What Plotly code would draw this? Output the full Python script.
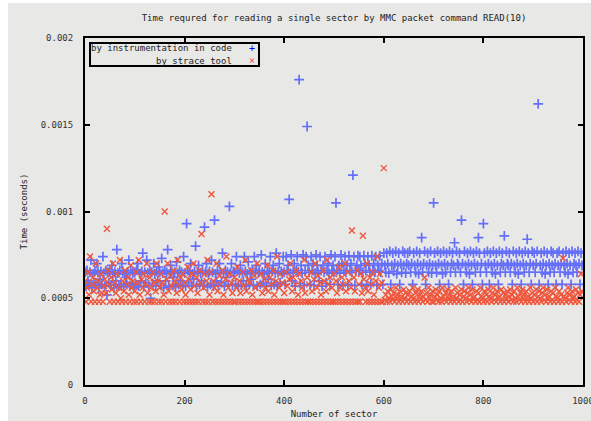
import plotly.graph_objects as go

# Times in microseconds, one value every 2 sectors (sector 0, 2, 4, ... 998)
sectors = list(range(0, 1000, 2))

blue_us = [
 650,570,660,600,580,650,720,560,640,590,660,575,700,650,560,610,655,580,740,645,570,660,520,650,590,
 655,575,690,640,560,650,600,780,645,570,660,580,700,655,565,640,620,580,650,720,570,660,590,645,560,
 650,580,665,700,570,640,600,655,760,565,650,590,720,645,575,660,500,650,585,700,640,570,655,600,680,
 650,575,730,645,560,660,600,650,780,570,640,690,655,575,620,650,565,710,645,580,660,600,650,575,740,
 645,570,930,660,590,650,700,575,640,610,655,800,570,650,690,580,645,600,660,575,910,650,700,565,640,
 655,580,720,650,570,950,640,600,660,575,700,650,590,760,645,570,660,620,650,580,1030,645,700,575,655,
 650,580,740,660,570,645,690,575,650,600,740,655,570,640,710,580,650,610,660,575,740,650,690,570,645,
 660,580,750,650,590,640,700,570,655,610,650,740,575,660,690,580,645,760,570,650,700,590,655,640,740,
 650,580,740,660,690,1070,645,750,600,650,700,570,660,740,650,1760,585,690,645,750,575,660,740,1490,690,
 650,580,740,660,700,575,645,750,690,650,600,740,660,570,690,650,740,585,660,700,645,580,750,660,690,
 650,740,1050,660,580,690,645,750,700,575,660,740,650,690,580,745,660,700,650,1210,740,575,660,690,745,
 660,740,690,580,650,745,700,660,575,740,690,650,580,745,660,700,650,740,575,690,660,745,650,700,580,
 760,690,650,760,700,645,770,580,690,760,655,700,770,640,690,760,580,700,650,770,690,760,645,700,760,
 690,770,650,700,580,760,690,650,770,700,640,760,690,850,650,700,770,580,690,760,650,700,770,645,690,
 1050,760,690,650,770,700,580,760,690,640,770,700,650,760,690,580,770,650,700,760,690,820,650,770,700,
 690,760,650,950,700,580,770,690,650,760,700,640,770,690,580,760,700,650,770,690,850,760,650,700,580,
 930,760,690,650,770,700,580,760,690,650,770,700,640,760,690,580,770,650,700,760,690,860,650,770,700,
 690,760,650,700,580,770,690,650,760,700,640,770,690,580,760,700,650,770,690,840,760,650,700,580,770,
 690,760,650,700,770,1620,580,690,760,650,700,770,640,690,760,580,700,650,770,690,760,650,700,580,760,
 690,770,650,700,580,760,690,650,770,700,640,760,690,580,770,650,700,760,690,650,770,700,580,760,690,
]

red_us = [
 600,480,560,650,520,740,480,580,620,540,480,700,560,600,480,520,640,530,480,570,610,530,900,660,580,
 480,620,550,700,480,590,530,640,480,560,720,500,480,600,540,660,480,580,620,520,480,690,560,600,480,
 540,650,480,590,720,520,480,610,560,640,480,580,700,530,480,620,560,480,650,590,480,540,700,600,480,
 560,640,480,590,520,1000,480,610,700,540,480,630,570,480,660,600,480,530,720,580,480,620,550,640,480,
 590,520,480,680,610,480,550,640,480,700,570,480,620,530,480,660,590,870,480,560,640,480,600,720,480,
 520,650,1100,480,600,560,480,700,540,480,630,580,480,660,520,480,610,740,480,560,640,480,590,530,480,
 620,480,560,680,480,600,530,480,650,570,480,720,540,480,610,590,480,660,520,480,630,560,480,700,480,
 580,480,640,530,480,610,560,480,690,540,480,620,580,480,660,520,480,600,740,480,560,640,480,590,480,
 530,480,650,570,480,610,700,480,540,620,480,580,660,480,520,640,480,600,560,480,720,530,480,620,480,
 580,480,650,540,480,610,700,480,560,630,480,590,520,480,660,600,480,540,720,480,580,620,480,560,480,
 640,480,600,530,480,680,560,480,620,580,480,700,540,480,650,600,480,560,890,480,620,540,480,660,480,
 580,480,640,530,860,610,560,480,700,540,480,620,580,480,650,520,480,600,740,480,560,640,480,590,480,
 1250,490,520,480,540,500,480,550,510,490,530,480,560,500,520,480,540,490,510,480,550,500,530,480,520,
 490,540,480,510,560,500,480,530,490,550,480,520,500,540,480,510,620,490,530,480,560,500,520,480,540,
 480,510,550,490,520,480,540,500,480,560,510,490,530,480,550,500,520,480,540,490,510,480,560,500,530,
 480,520,490,550,480,510,540,500,480,530,560,490,520,480,550,500,510,480,540,490,530,480,560,510,500,
 480,540,490,520,480,550,510,500,480,530,560,490,520,480,540,500,510,480,550,490,530,480,520,500,540,
 480,510,550,490,520,480,540,500,480,560,510,490,530,480,550,500,520,480,540,490,510,480,560,500,530,
 480,520,490,550,480,510,540,500,480,530,560,490,520,480,550,500,510,480,540,490,530,480,560,510,500,
 480,540,490,520,480,730,510,500,480,530,560,490,520,480,540,500,510,480,550,490,530,480,520,640,540,
]

y_ticks = [0, 0.0005, 0.001, 0.0015, 0.002]
y_tick_labels = ["0", "0.0005", "0.001", "0.0015", "0.002"]
x_ticks = [0, 200, 400, 600, 800, 1000]
x_tick_labels = ["0", "200", "400", "600", "800", "1000"]

FONT = "DejaVu Sans Mono"
W, H = 591, 421
L, R, T, B = 85, 8, 38, 36
PW, PH = W - L - R, H - T - B


def px(xp):
    return (xp - L) / PW


def py(yp):
    return (H - B - yp) / PH


bx = sectors[:len(blue_us)]
rx = sectors[:len(red_us)]

fig = go.Figure()
fig.add_trace(go.Scatter(
    x=bx, y=[v * 1e-6 for v in blue_us], mode="markers",
    name="by instrumentation in code",
    marker=dict(symbol="cross-thin-open", size=7,
                line=dict(width=1.7, color="rgb(0,0,235)")),
))
fig.add_trace(go.Scatter(
    x=rx, y=[v * 1e-6 for v in red_us], mode="markers",
    name="by strace tool",
    marker=dict(symbol="x-thin-open", size=6,
                line=dict(width=1.4, color="rgba(245,0,0,0.85)")),
))

shapes = [
    # gray canvas with small white margins at top/left
    dict(type="rect", xref="paper", yref="paper", layer="below",
         x0=px(8), x1=px(W + 30), y0=py(H + 30), y1=py(3),
         fillcolor="#e8e8e6", line=dict(width=0)),
    # legend box
    dict(type="rect", xref="paper", yref="paper",
         x0=px(90), x1=px(259), y0=py(66), y1=py(43),
         fillcolor="rgba(0,0,0,0)", line=dict(color="black", width=2)),
]

annotations = [
    dict(xref="paper", yref="paper", x=px(234), y=py(48.5), xanchor="right", yanchor="middle",
         text="by instrumentation in code", showarrow=False,
         font=dict(family=FONT, size=9, color="#222")),
    dict(xref="paper", yref="paper", x=px(234), y=py(60.5), xanchor="right", yanchor="middle",
         text="by strace tool", showarrow=False,
         font=dict(family=FONT, size=9, color="#222")),
    dict(xref="paper", yref="paper", x=px(252), y=py(48.5), xanchor="center", yanchor="middle",
         text="+", showarrow=False, font=dict(family=FONT, size=10, color="blue")),
    dict(xref="paper", yref="paper", x=px(252), y=py(60.5), xanchor="center", yanchor="middle",
         text="×", showarrow=False, font=dict(family=FONT, size=10, color="rgba(255,0,0,0.7)")),
]

fig.update_layout(
    width=W, height=H,
    margin=dict(l=L, r=R, t=T, b=B, autoexpand=False),
    paper_bgcolor="white",
    plot_bgcolor="rgba(0,0,0,0)",
    showlegend=False,
    title=dict(text="Time requred for reading a single sector by MMC packet command READ(10)",
               xref="container", x=334 / W, xanchor="center",
               yref="container", y=1 - 18 / H, yanchor="middle",
               font=dict(family=FONT, size=9, color="#222")),
    font=dict(family=FONT, size=9, color="#333"),
    shapes=shapes,
    annotations=annotations,
    xaxis=dict(range=[0, 1000], tickvals=x_ticks, ticktext=x_tick_labels,
               automargin=False,
               showgrid=False, zeroline=False, showline=True, mirror="allticks",
               linecolor="black", linewidth=2, ticks="inside", ticklen=5,
               tickcolor="black", tickwidth=2, ticklabelstandoff=6,
               ticklabeloverflow="allow",
               title=dict(text="Number of sector", standoff=6,
                          font=dict(family=FONT, size=9, color="#222"))),
    yaxis=dict(range=[0, 0.002], tickvals=y_ticks, ticktext=y_tick_labels,
               automargin=False,
               showgrid=False, zeroline=False, showline=True, mirror="allticks",
               linecolor="black", linewidth=2, ticks="inside", ticklen=5,
               tickcolor="black", tickwidth=2, ticklabelstandoff=8,
               title=dict(text="Time (seconds)", standoff=12,
                          font=dict(family=FONT, size=9, color="#222"))),
)

fig.write_html(
    "out.html",
    config={"displayModeBar": False},
    post_script="document.body.style.margin='0';",
)
